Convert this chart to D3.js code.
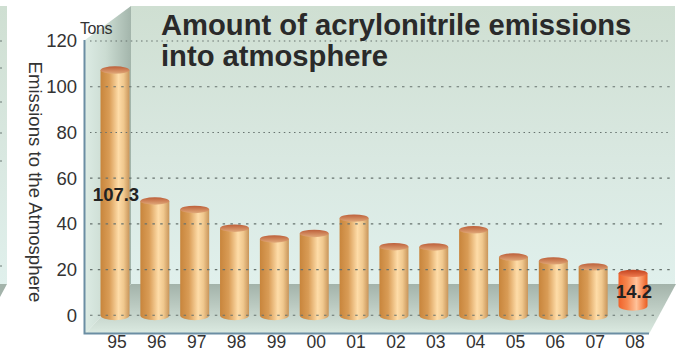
<!DOCTYPE html>
<html>
<head>
<meta charset="utf-8">
<script src="https://cdn.jsdelivr.net/npm/d3@7/dist/d3.min.js"></script>
<style>
  html, body { margin: 0; padding: 0; background: #fff; }
  svg { display: block; font-family: "Liberation Sans", Arial, sans-serif; }
  .axis path, .axis line { display: none; }
  .axis text { font-size: 18.5px; fill: #333; font-family: "Liberation Sans", Arial, sans-serif; }
  .axis.years text { font-size: 17.5px; }
</style>
</head>
<body>
<svg id="chart" width="684" height="352"></svg>
<script>
// Acrylonitrile emissions by year, in tons
const years = ["95","96","97","98","99","00","01","02","03","04","05","06","07","08"];
const emissions = [107.3, 50, 46.3, 38.1, 33.4, 35.8, 42.5, 30, 29.9, 37.4, 25.5, 23.8, 21.2, 14.2];
const yTicks = [0, 20, 40, 60, 80, 100, 120];
const titleLines = ["Amount of acrylonitrile emissions", "into atmosphere"];
const valueLabels = { "95": "107.3", "08": "14.2" };
const highlightYear = "08";

const svg = d3.select("#chart");
const defs = svg.append("defs");

function gradient(id, x2, y2, stops) {
  const g = defs.append("linearGradient").attr("id", id)
    .attr("x1", 0).attr("y1", 0).attr("x2", x2).attr("y2", y2);
  stops.forEach(([o, c]) => g.append("stop").attr("offset", o).attr("stop-color", c));
}
gradient("backWall", 0, 1, [[0, "#cfdfd2"], [0.55, "#d9e8e1"], [1, "#e0f0ec"]]);
gradient("sideWall", 1, 0, [[0, "#dcebe4"], [0.45, "#cbdcd2"], [1, "#a3b5ab"]]);
gradient("floor", 0, 1, [[0, "#a3b3aa"], [0.45, "#bccbc2"], [1, "#dcebe2"]]);
gradient("barBody", 1, 0, [[0, "#c8853c"], [0.3, "#d99c56"], [0.62, "#fedca8"], [0.8, "#f0c88e"], [1, "#c8955a"]]);
gradient("barTop", 0, 1, [[0, "#bd5f3a"], [1, "#e0a878"]]);
gradient("hotBody", 1, 0, [[0, "#f0622a"], [0.3, "#f6874f"], [0.62, "#ffc29a"], [0.8, "#f8935f"], [1, "#e85c22"]]);
gradient("hotTop", 0, 1, [[0, "#c2401c"], [1, "#ee7c50"]]);

// Scales shared by the axes, the gridlines and the cylinders
const y = d3.scaleLinear().domain([0, 120]).range([315.3, 41]);
const x = d3.scalePoint().domain(years).range([115, 633]);

const line = d3.line();
const room = svg.append("g");

// Neighbouring panel cut off at the left edge, with the ends of its gridlines
room.append("path").attr("d", line([[0, 6], [7, 6], [7, 284], [0, 284]])).attr("fill", "url(#backWall)");
room.append("path").attr("d", line([[0, 284], [7, 284], [0, 297]])).attr("fill", "#a3b3aa");
room.append("g").selectAll("line")
  .data([41, 68, 102, 133, 161, 266])
  .join("line")
  .attr("x1", 0).attr("x2", 2)
  .attr("y1", d => d).attr("y2", d => d)
  .attr("stroke", "#6d7a76");

// Three-sided room behind the bars
room.append("path").attr("d", line([[131, 6], [675, 6], [675, 284], [131, 284]])).attr("fill", "url(#backWall)");
room.append("path").attr("d", line([[85, 40], [131, 6], [131, 284], [85, 334]])).attr("fill", "url(#sideWall)");
room.append("path").attr("d", line([[131, 284], [676, 284], [649, 334], [85, 334]])).attr("fill", "url(#floor)");
room.append("path").attr("d", line([[84.5, 40], [84.5, 333.5], [649, 333.5]]))
  .attr("fill", "none").attr("stroke", "#6b8ea3").attr("stroke-width", 2);

// Cylinders
const barWidth = 29;
const topRy = 3.7, bottomRy = 5;
const hotLift = 9.5;  // the highlighted year stands clear of the floor line

const bars = svg.append("g").selectAll("g")
  .data(years.map((year, i) => ({ year, value: emissions[i] })))
  .join("g");

bars.each(function (d) {
  const hot = d.year === highlightYear;
  const lift = hot ? hotLift : 0;
  const base = y(0) - lift;
  const top = y(d.value) - lift;
  const cx = x(d.year), l = cx - barWidth / 2, r = cx + barWidth / 2;
  const g = d3.select(this);
  g.append("path")
    .attr("d", `M${l},${top}L${r},${top}L${r},${base}A${barWidth / 2},${bottomRy} 0 0 1 ${l},${base}Z`)
    .attr("fill", hot ? "url(#hotBody)" : "url(#barBody)");
  g.append("ellipse")
    .attr("cx", cx).attr("cy", top).attr("rx", barWidth / 2).attr("ry", topRy)
    .attr("fill", hot ? "url(#hotTop)" : "url(#barTop)");
  d.mid = (top + base) / 2;
});

// Dashed gridlines run in front of the cylinders
const gridEnds = { 0: 654, 40: 667 };
svg.append("g").selectAll("line")
  .data(yTicks)
  .join("line")
  .attr("x1", 90)
  .attr("x2", d => gridEnds[d] || 670)
  .attr("y1", d => y(d)).attr("y2", d => y(d))
  .attr("stroke", "#66726e").attr("stroke-width", 1.1)
  .attr("stroke-dasharray", d => (d === 120 || d === 80) ? "1.5 3.6" : "2.5 5.3");

// Axes
svg.append("g").attr("class", "axis")
  .attr("transform", "translate(83,0)")
  .call(d3.axisLeft(y).tickValues(yTicks).tickSize(0).tickPadding(6));
svg.append("g").attr("class", "axis years")
  .attr("transform", "translate(1.5,333)")
  .call(d3.axisBottom(x).tickSize(0).tickPadding(2.6));

svg.append("text").attr("x", 96).attr("y", 34).attr("text-anchor", "middle")
  .attr("font-size", 16).attr("letter-spacing", -0.4).attr("fill", "#333").text("Tons");

svg.append("text")
  .attr("transform", "translate(29,182) rotate(90)")
  .attr("text-anchor", "middle")
  .attr("font-size", 18.6).attr("fill", "#333")
  .text("Emissions to the Atmosphere");

// Title
svg.append("g").selectAll("text")
  .data(titleLines)
  .join("text")
  .attr("x", 161)
  .attr("y", (d, i) => 35 + i * 31)
  .attr("font-size", 29.2).attr("font-weight", "bold").attr("fill", "#2a2a2a")
  .text(d => d);

// Values printed on the first and last cylinders
svg.append("g").selectAll("text")
  .data(bars.data().filter(d => valueLabels[d.year]))
  .join("text")
  .attr("x", d => x(d.year) + 1)
  .attr("y", d => d.mid + 2)
  .attr("dy", "0.36em")
  .attr("text-anchor", "middle")
  .attr("font-size", 18.5).attr("font-weight", "bold").attr("fill", "#222")
  .text(d => valueLabels[d.year]);
</script>
</body>
</html>
